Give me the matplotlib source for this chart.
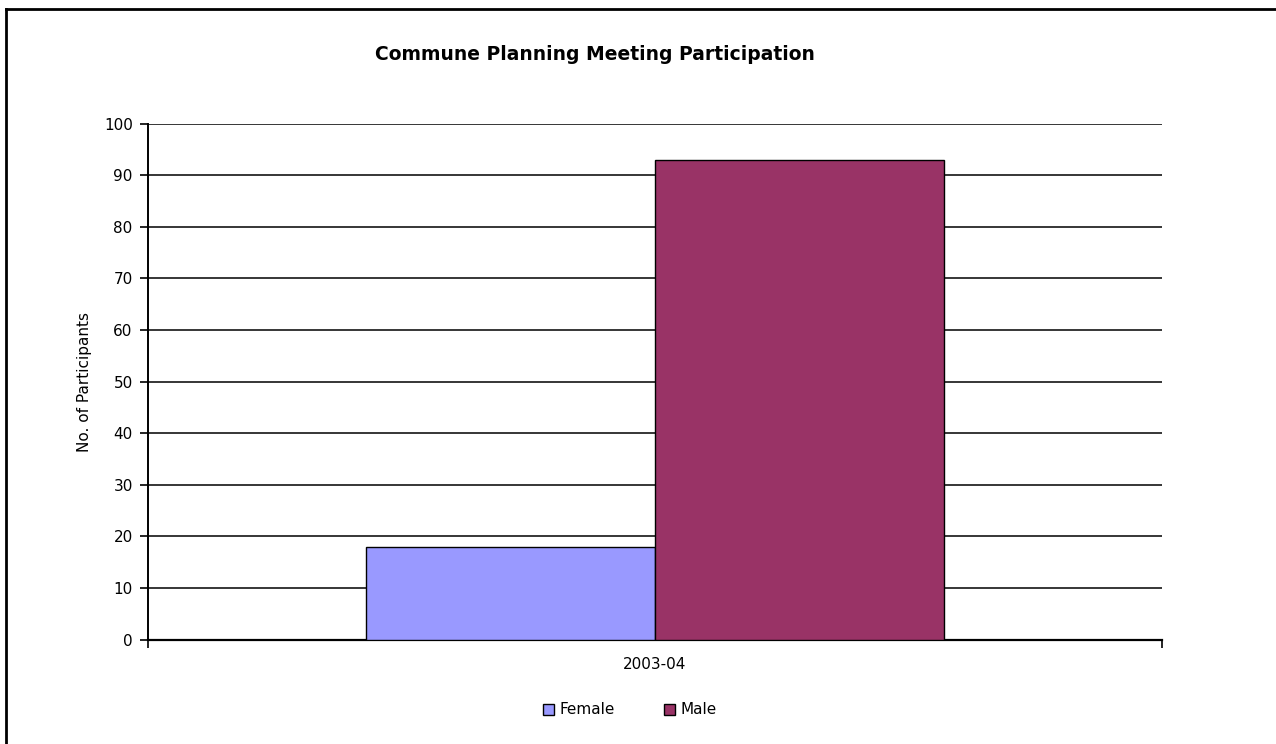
import matplotlib.pyplot as plt
from matplotlib.lines import Line2D
import numpy as np

plt.rcParams['font.family'] = ['DejaVu Sans']

# Данні
years = ['2003-04']
series_names = ['Female', 'Male']
female = [18]
male = [93]
colors = ['#9999FF', '#993366']

fig = plt.figure(figsize=(12.76, 7.44), dpi=100)
ax = fig.add_axes([148 / 1276, 1 - 639.7 / 744, 1014 / 1276, 516.2 / 744])

x = np.arange(len(years))
bar_w = 0.285
ax.bar(x - bar_w / 2, female, bar_w, color=colors[0], edgecolor='black',
       linewidth=1.0, label=series_names[0], zorder=3)
ax.bar(x + bar_w / 2, male, bar_w, color=colors[1], edgecolor='black',
       linewidth=1.0, label=series_names[1], zorder=3)

ax.set_xlim(-0.5, 0.5)
ax.set_ylim(0, 100)
ax.set_yticks(range(0, 101, 10))
ax.set_xticks([-0.5, 0.5], minor=False)
ax.set_xticklabels(['', ''])
ax.tick_params(axis='x', length=6, width=1.2, color='black')
ax.tick_params(axis='y', length=6, width=1.2, labelsize=11, pad=5)

# Підпис категорії по центру осі
ax.text(0, -4.9, years[0], ha='center', va='center', fontsize=11,
        transform=ax.transData)

# Горизонтальна сітка
for v in range(10, 101, 10):
    ax.axhline(v, color='black', linewidth=1.1, zorder=1)

for s in ['top', 'right']:
    ax.spines[s].set_visible(False)
ax.spines['left'].set_linewidth(1.4)
ax.spines['bottom'].set_linewidth(1.6)

ax.set_ylabel('No. of Participants', fontsize=11)
ax.yaxis.set_label_coords(-56 / 1014, 0.5)
fig.text(595 / 1276, 1 - 55 / 744, 'Commune Planning Meeting Participation',
         ha='center', va='center', fontsize=13.5, fontweight='bold')

fig.legend(loc='center', bbox_to_anchor=(630 / 1276, 1 - 710 / 744), ncol=2,
           frameon=False, fontsize=11, handlelength=0.7, handleheight=0.7,
           handletextpad=0.4, columnspacing=3.2)

# Рамка
fig.add_artist(Line2D([5.5 / 1276, 1], [1 - 8.5 / 744, 1 - 8.5 / 744],
                      transform=fig.transFigure, color='black', linewidth=2))
fig.add_artist(Line2D([5.5 / 1276, 5.5 / 1276], [0, 1 - 8.5 / 744],
                      transform=fig.transFigure, color='black', linewidth=2))

fig.savefig('out.png', dpi=100)
